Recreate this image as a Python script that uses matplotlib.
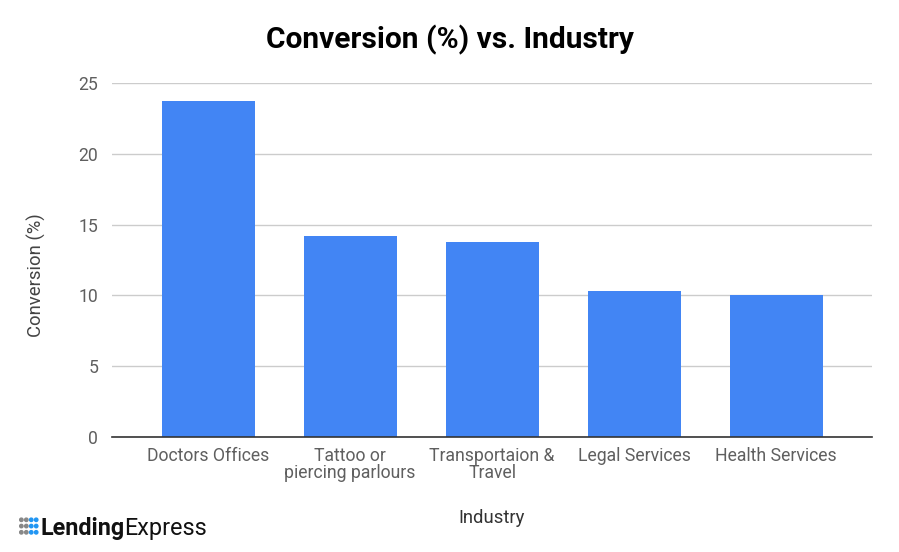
import numpy as np
import matplotlib.pyplot as plt

# Daten
industries = ['Doctors Offices', 'Tattoo or\npiercing parlours', 'Transportaion &\nTravel',
              'Legal Services', 'Health Services']
conversion = [23.7, 14.2, 13.8, 10.3, 10.0]
y_ticks = [0, 5, 10, 15, 20, 25]

plt.rcParams['font.family'] = ['Roboto', 'DejaVu Sans']

fig = plt.figure(figsize=(8.99, 5.52), dpi=100)
ax = fig.add_axes([0.1246, 0.2083, 0.8454, 0.6413])

x = np.arange(len(industries))
ax.bar(x, conversion, width=0.655, color='#4285F4', zorder=3)

ax.set_xlim(-0.676, len(industries) - 1 + 0.676)
ax.set_ylim(0, 25)
ax.set_yticks(y_ticks)
ax.set_xticks(x)
ax.set_xticklabels(industries, linespacing=0.95)
ax.tick_params(axis='both', length=0, labelsize=12.7, labelcolor='#5f5f5f')
ax.tick_params(axis='x', pad=7)
ax.tick_params(axis='y', pad=10)

ax.grid(axis='y', color='#cccccc', linewidth=1, zorder=0)
for s in ['top', 'right', 'left']:
    ax.spines[s].set_visible(False)
ax.spines['bottom'].set_color('#333333')
ax.spines['bottom'].set_linewidth(1.2)
ax.spines['bottom'].set_zorder(4)

# Achsentitel
fig.text(0.041, 0.502, 'Conversion (%)', fontsize=13.3, color='#444444', rotation=90,
         ha='center', va='center')
fig.text(0.547, 0.061, 'Industry', fontsize=13.3, color='#333333', ha='center', va='center')

fig.text(0.5, 0.927, 'Conversion (%) vs. Industry', fontsize=21.5, fontweight='bold',
         color='#000000', ha='center', va='center')

# Logo
logo = fig.add_axes([0.021, 0.03, 0.022, 0.034])
gx, gy = np.meshgrid(np.arange(4), np.arange(3))
cols = np.where(gx.ravel() >= 2, '#2196F3', '#888888')
logo.scatter(gx.ravel(), gy.ravel(), s=6, c=cols)
logo.set_xlim(-0.5, 3.5)
logo.set_ylim(-0.5, 2.5)
logo.axis('off')
t1 = fig.text(0.045, 0.043, 'Lending', fontsize=16.8, fontweight='bold', color='#111111', va='center')
fig.canvas.draw()
bb = t1.get_window_extent().transformed(fig.transFigure.inverted())
fig.text(bb.x1, 0.043, 'Express', fontsize=16.8, color='#111111', va='center')

plt.savefig('out.png', dpi=100)
